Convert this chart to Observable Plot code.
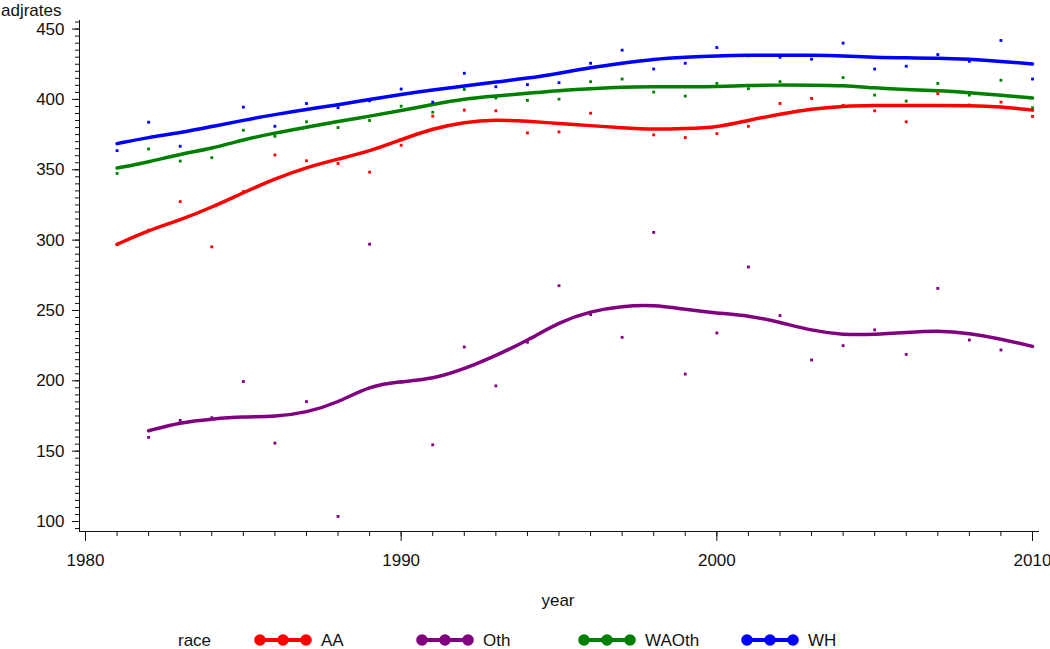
<!DOCTYPE html>
<html><head><meta charset="utf-8">
<script src="https://cdn.jsdelivr.net/npm/d3@7"></script>
<script src="https://cdn.jsdelivr.net/npm/@observablehq/plot@0.6"></script>
<style>
body{margin:0;background:#fff;font-family:Arial,"Liberation Sans",sans-serif;color:#111}
#wrap{position:relative;width:1050px}
.lab{position:absolute;font-size:17px;line-height:17px;white-space:nowrap;color:#111}
</style></head><body>
<div id="wrap"><div id="chart"></div><div id="below" style="position:relative;height:74px"></div></div>
<script>
// ---- data ----
const races = ["AA", "Oth", "WAOth", "WH"];
const raceColors = ["#ff0000", "#800080", "#008000", "#0000ff"];
const years = [1981,1982,1983,1984,1985,1986,1987,1988,1989,1990,1991,1992,1993,1994,1995,
               1996,1997,1998,1999,2000,2001,2002,2003,2004,2005,2006,2007,2008,2009,2010];
const othYears = years.slice(1);

// observed adjusted rates (scatter points)
const aaRates    = [297,307,327.4,295.2,334.5,360.5,356.4,354.5,348.3,367.4,388.1,392.4,391.9,376.2,376.9,
                    390.2,380,374.8,372.9,375.7,380.9,397.1,400.7,395.7,391.9,384.1,404.1,396,398.1,387.9];
const othRates   = [159.8,171.9,173.8,199.5,155.7,185.2,103.6,297.1,199,154.5,224,196.4,227.4,267.6,
                    247.1,230.9,305.5,204.8,234,280.9,246.4,214.8,225,236.2,218.8,265.7,229,221.9,224.5];
const waothRates = [347.4,364.8,356.2,358.6,378.1,373.8,384.1,380,385,395.2,390.9,407.1,401,399.3,400.2,
                    412.6,414.5,405.2,402.4,411.4,407.6,412.6,410,415.5,403.1,398.8,411.4,403.1,413.6,394.1];
const whRates    = [363.6,383.8,366.7,380.9,394.5,380.9,397.1,394.1,399,407.4,398.1,418.6,409,410.5,411.9,
                    425.7,435,421.6,425.7,436.9,431,430,428.6,440,421.6,423.6,431.9,427.1,441.9,414.5];

// smoothed fit curves
const aaFit    = [297,307,314.3,323.3,333.8,343.6,351.7,357.6,363.1,371.4,379.3,384,385.7,384.5,382.9,
                  381.4,379.8,378.6,379.3,380,385.2,389.5,393.3,395.2,395.7,395.7,395.7,395.7,394.8,392.4];
const othFit   = [164.5,170.5,172.9,174.5,174.5,177.4,184.5,196.4,199.5,201.2,208.4,217.9,228.6,241.7,
                  249.5,253.1,254,250.7,248.1,246.4,241.7,235.7,232.6,232.9,234.3,235.7,233.8,229.8,224.5];
const waothFit = [351.2,355.5,361.2,365,371.4,376.2,380.2,384.3,388.1,392.1,396.4,400.5,402.4,404.3,406.4,
                  407.6,408.8,409,409,409,410,410.2,410.2,410,408.1,406.9,406.2,404.8,403.1,401];
const whFit    = [368.6,373.1,376.2,380.7,385.2,389.3,392.9,396.2,400,403.6,406.7,409.5,412.4,415,418.6,
                  422.6,425.7,428.6,430,431,431.4,431.4,431.4,431,429.8,429.5,429.5,428.6,427.1,425.2];

const yTicks = [100,150,200,250,300,350,400,450];
const xTicks = [1980,1990,2000,2010];

// ---- tables ----
const seriesYears = {AA: years, Oth: othYears, WAOth: years, WH: years};
const seriesPts = {AA: aaRates, Oth: othRates, WAOth: waothRates, WH: whRates};
const seriesFit = {AA: aaFit, Oth: othFit, WAOth: waothFit, WH: whFit};
const pointRows = [], fitRows = [];
for (const r of races) {
  seriesYears[r].forEach((yr, i) => {
    pointRows.push({race: r, year: yr, value: seriesPts[r][i]});
    fitRows.push({race: r, year: yr, value: seriesFit[r][i]});
  });
}
const yMinor = d3.range(95, 456, 5);
const xMinor = d3.range(1980, 2011, 1);

const chart = Plot.plot({
  width: 1050, height: 575,
  marginTop: 20, marginLeft: 79, marginRight: 12, marginBottom: 44,
  x: {domain: [1979.81, 2010.19]},
  y: {domain: [92.9, 456.1]},
  color: {domain: races, range: raceColors},
  style: {fontFamily: "Arial, 'Liberation Sans', sans-serif", fontSize: "17px", color: "#111", background: "#fff"},
  marks: [
    Plot.axisY(yMinor, {tickSize: 4, tickFormat: () => "", label: null}),
    Plot.axisY(yTicks, {tickSize: 7, tickPadding: 8, label: null}),
    Plot.axisX(xMinor, {tickSize: 5, tickFormat: () => "", label: null}),
    Plot.axisX(xTicks, {tickSize: 10, tickPadding: 12, tickFormat: d => String(d), label: null}),
    Plot.frame({anchor: "left"}),
    Plot.frame({anchor: "bottom"}),
    Plot.line(fitRows, {x: "year", y: "value", z: "race", stroke: "race", strokeWidth: 3.5, curve: "basis"}),
    Plot.dot(pointRows, {x: "year", y: "value", fill: "race", symbol: "square", r: 1.6})
  ]
});
document.getElementById("chart").appendChild(chart);

// ---- axis titles ----
const wrap = document.getElementById("wrap");
const yt = document.createElement("div");
yt.className = "lab"; yt.textContent = "adjrates";
yt.style.left = "1px"; yt.style.top = "2px";
wrap.appendChild(yt);

const below = document.getElementById("below");
const xt = document.createElement("div");
xt.className = "lab"; xt.textContent = "year";
xt.style.left = "558px"; xt.style.top = "17px"; xt.style.transform = "translateX(-50%)";
below.appendChild(xt);

// ---- legend ----
const legTitle = document.createElement("div");
legTitle.className = "lab"; legTitle.textContent = "race";
legTitle.style.left = "178px"; legTitle.style.top = "57px";
below.appendChild(legTitle);
const swLeft = [254, 416, 578, 741];
races.forEach((r, i) => {
  const ns = "http://www.w3.org/2000/svg";
  const s = document.createElementNS(ns, "svg");
  s.setAttribute("width", 58); s.setAttribute("height", 14);
  s.style.position = "absolute"; s.style.left = swLeft[i] + "px"; s.style.top = "58px";
  const ln = document.createElementNS(ns, "line");
  ln.setAttribute("x1", 6); ln.setAttribute("x2", 52); ln.setAttribute("y1", 7); ln.setAttribute("y2", 7);
  ln.setAttribute("stroke", raceColors[i]); ln.setAttribute("stroke-width", 4);
  s.appendChild(ln);
  [6, 29, 52].forEach(cx => {
    const c = document.createElementNS(ns, "circle");
    c.setAttribute("cx", cx); c.setAttribute("cy", 7); c.setAttribute("r", 5.8);
    c.setAttribute("fill", raceColors[i]);
    s.appendChild(c);
  });
  below.appendChild(s);
  const t = document.createElement("div");
  t.className = "lab"; t.textContent = r;
  t.style.left = (swLeft[i] + 67) + "px"; t.style.top = "57px";
  below.appendChild(t);
});
</script>
</body></html>
